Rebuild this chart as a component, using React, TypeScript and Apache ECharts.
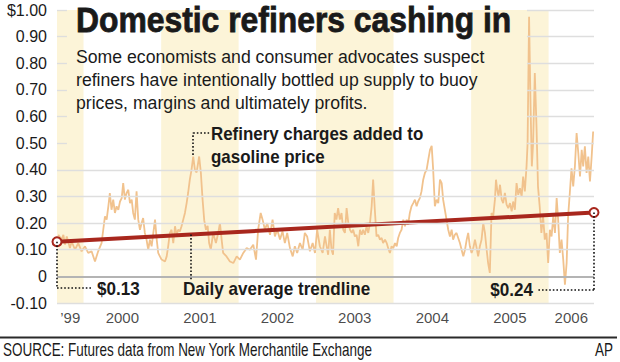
import React, { useEffect, useRef } from "react";
import * as echarts from "echarts";

// ---------- data ----------
const PRICE_DATES = [
  "1999-09-04","1999-09-20","1999-09-28","1999-10-06","1999-10-14","1999-10-29","1999-11-06","1999-11-22","1999-12-07","1999-12-23",
  "2000-01-08","2000-01-23","2000-02-08","2000-02-24","2000-03-10","2000-03-26","2000-04-03","2000-04-11","2000-04-19","2000-04-27",
  "2000-05-04","2000-05-12","2000-05-20","2000-05-28","2000-06-05","2000-06-13","2000-06-21","2000-06-29","2000-07-06","2000-07-14",
  "2000-07-22","2000-07-30","2000-08-07","2000-08-15","2000-08-22","2000-08-30","2000-09-07","2000-09-15","2000-09-23","2000-10-01",
  "2000-10-08","2000-10-16","2000-10-24","2000-11-01","2000-11-09","2000-11-17","2000-11-25","2000-12-03","2000-12-11","2000-12-18","2000-12-26",
  "2001-01-03","2001-01-19","2001-01-27","2001-02-03","2001-02-11","2001-02-19","2001-02-27","2001-03-07","2001-03-15","2001-03-22",
  "2001-03-30","2001-04-07","2001-04-15","2001-04-23","2001-05-01","2001-05-08","2001-05-16","2001-05-24","2001-06-01","2001-06-09",
  "2001-06-17","2001-06-29","2001-07-07","2001-07-15","2001-07-23","2001-07-31","2001-08-08","2001-08-15","2001-08-23","2001-09-03",
  "2001-09-16","2001-09-27","2001-10-05","2001-10-13","2001-10-20","2001-11-05","2001-11-21","2001-12-07","2001-12-23",
  "2002-01-07","2002-01-23","2002-02-08","2002-02-23","2002-03-11","2002-03-24","2002-04-03","2002-04-15","2002-04-24","2002-05-05",
  "2002-05-16","2002-05-29","2002-06-10","2002-06-21","2002-07-02","2002-07-15","2002-07-27","2002-08-07","2002-08-18","2002-08-31",
  "2002-09-13","2002-09-23","2002-10-04","2002-10-17","2002-10-30","2002-11-09","2002-11-20","2002-12-03","2002-12-16","2002-12-27",
  "2003-01-06","2003-01-19","2003-02-01","2003-02-12","2003-02-27","2003-03-07","2003-03-15","2003-03-22","2003-03-30","2003-04-07",
  "2003-04-15","2003-04-23","2003-05-01","2003-05-09","2003-05-17","2003-05-25","2003-06-02","2003-06-10","2003-06-18","2003-06-25",
  "2003-07-03","2003-07-11","2003-07-19","2003-07-27","2003-08-04","2003-08-11","2003-08-19","2003-08-27","2003-09-04","2003-09-12",
  "2003-09-20","2003-09-27","2003-10-05","2003-10-13","2003-10-21","2003-10-29","2003-11-06","2003-11-13","2003-11-22","2003-11-30",
  "2003-12-07","2003-12-15","2003-12-23","2003-12-31",
  "2004-01-08","2004-01-16","2004-01-23","2004-01-31","2004-02-08","2004-02-16","2004-02-24","2004-03-03","2004-03-10","2004-03-18",
  "2004-03-26","2004-04-03","2004-04-11","2004-04-19","2004-04-26","2004-05-04","2004-05-12","2004-05-20","2004-05-28","2004-06-05",
  "2004-06-13","2004-06-21","2004-06-29","2004-07-06","2004-07-14","2004-07-22","2004-07-30","2004-08-07","2004-08-15","2004-08-22",
  "2004-08-30","2004-09-07","2004-09-15","2004-09-23","2004-10-01","2004-10-08","2004-10-16","2004-10-24","2004-11-01","2004-11-09",
  "2004-11-17","2004-11-25","2004-12-03","2004-12-11","2004-12-18","2004-12-26",
  "2005-01-03","2005-01-11","2005-01-19","2005-01-27","2005-02-03","2005-02-11","2005-02-19","2005-02-27","2005-03-07","2005-03-15",
  "2005-03-22","2005-03-30","2005-04-07","2005-04-15","2005-04-23","2005-04-28","2005-05-04","2005-05-10","2005-05-17","2005-05-25",
  "2005-06-01","2005-06-09","2005-06-17","2005-06-25","2005-07-03","2005-07-11","2005-07-18","2005-07-26","2005-08-03","2005-08-11",
  "2005-08-19","2005-08-27","2005-09-03","2005-09-11","2005-09-19","2005-09-24","2005-10-01","2005-10-08","2005-10-14","2005-10-20",
  "2005-10-28","2005-11-05","2005-11-12","2005-11-20","2005-11-28","2005-12-06","2005-12-14","2005-12-22","2005-12-30",
  "2006-01-07","2006-01-15","2006-01-23","2006-01-31","2006-02-08","2006-02-15","2006-02-23","2006-03-03","2006-03-11","2006-03-19",
  "2006-03-27","2006-04-03","2006-04-11","2006-04-19","2006-04-27","2006-05-05","2006-05-13","2006-05-21","2006-05-29","2006-06-06",
  "2006-06-13","2006-06-21","2006-06-29","2006-07-07","2006-07-15","2006-07-23","2006-07-30",
];
const PRICE_VALUES = [
  0.156,0.138,0.156,0.119,0.15,0.106,0.131,0.10,0.125,0.094,
  0.113,0.088,0.094,0.056,0.094,0.125,0.175,0.225,0.213,0.263,
  0.313,0.25,0.288,0.238,0.263,0.25,0.281,0.294,0.35,0.288,
  0.313,0.325,0.275,0.288,0.238,0.213,0.319,0.213,0.175,0.20,
  0.219,0.163,0.138,0.10,0.138,0.113,0.163,0.213,0.138,0.088,0.075,
  0.063,0.056,0.075,0.113,0.163,0.175,0.125,0.188,0.156,0.175,
  0.169,0.188,0.213,0.238,0.275,0.313,0.363,0.40,0.45,0.40,
  0.39,0.45,0.39,0.29,0.21,0.175,0.19,0.125,0.10,0.163,
  0.125,0.163,0.20,0.138,0.088,0.075,0.056,0.05,0.075,
  0.063,0.088,0.106,0.10,0.119,0.063,0.175,0.238,0.213,0.175,
  0.20,0.156,0.213,0.15,0.175,0.138,0.169,0.125,0.163,0.106,
  0.075,0.113,0.088,0.125,0.10,0.163,0.15,0.094,0.125,0.088,
  0.175,0.113,0.088,0.15,0.081,0.175,0.10,0.081,0.238,0.213,
  0.256,0.213,0.238,0.175,0.163,0.256,0.20,0.175,0.163,0.175,
  0.15,0.156,0.113,0.175,0.156,0.175,0.156,0.188,0.163,0.20,
  0.263,0.363,0.25,0.15,0.156,0.138,0.144,0.125,0.138,0.125,
  0.106,0.088,0.113,0.106,
  0.125,0.113,0.144,0.163,0.175,0.213,0.188,0.213,0.194,0.238,
  0.263,0.275,0.288,0.263,0.281,0.294,0.319,0.363,0.388,0.40,
  0.438,0.475,0.49,0.40,0.263,0.288,0.275,0.363,0.35,0.288,
  0.25,0.213,0.175,0.15,0.175,0.138,0.156,0.163,0.144,0.125,
  0.10,0.075,0.10,0.138,0.163,0.113,
  0.088,0.106,0.138,0.106,0.075,0.113,0.138,0.20,0.163,0.10,
  0.05,0.013,0.238,0.225,0.288,0.363,0.325,0.30,0.344,0.288,
  0.275,0.313,0.269,0.256,0.275,0.244,0.281,0.25,0.35,0.306,
  0.331,0.30,0.375,0.319,0.413,0.50,0.975,0.638,0.413,0.50,
  0.763,0.563,0.338,0.263,0.163,0.225,0.138,0.163,0.05,
  0.175,0.15,0.225,0.163,0.294,0.213,0.088,0.138,0.063,-0.031,
  0.05,0.225,0.313,0.406,0.338,0.413,0.538,0.463,0.375,0.475,
  0.413,0.488,0.388,0.45,0.356,0.45,0.544,
];

const TREND_DATES = ["1999-08-29", "2006-08-03"];
const TREND_VALUES = [0.13, 0.24];
const TREND_LABELS = ["$0.13", "$0.24"];

const YEARS = [1999, 2000, 2001, 2002, 2003, 2004, 2005, 2006];
const YEAR_LABELS = ["\u201999", "2000", "2001", "2002", "2003", "2004", "2005", "2006"];
const SHADED_YEARS = [1999, 2001, 2003, 2005];
const Y_TICKS = [-0.1, 0, 0.1, 0.2, 0.3, 0.4, 0.5, 0.6, 0.7, 0.8, 0.9, 1.0];

const TITLE = "Domestic refiners cashing in";
const SUBTITLE = [
  "Some economists and consumer advocates suspect",
  "refiners have intentionally bottled up supply to buoy",
  "prices, margins and ultimately profits.",
];
const NOTE_PEAK = ["Refinery charges added to", "gasoline price"];
const NOTE_TREND = "Daily average trendline";
const SOURCE = "SOURCE: Futures data from New York Merchantile Exchange";
const CREDIT = "AP";

// annotation anchors (dates / values)
const PEAK_DATE = "2001-06-01";
const TREND_NOTE_DATE = "2001-05-21";
const KNOCK_FROM = "1999-10-15";
const KNOCK_TO = "2005-09-21";

// ---------- styling ----------
const SANS = '"Liberation Sans", Arial, Helvetica, sans-serif';
const INK = "#1a1a1a";
const RED = "#a8271d";
const ORANGE = "#f1c28d";
const BAND = "#fcf4d8";
const GRIDC = "#dedede";

function ts(s: string): number {
  const [y, m, d] = s.split("-").map(Number);
  return new Date(y, m - 1, d).getTime();
}

export default function App() {
  const ref = useRef<HTMLDivElement>(null);

  useEffect(() => {
    document.body.style.margin = "0";
    if (!ref.current) return;
    const chart = echarts.init(ref.current, undefined, { renderer: "svg" });

    const xMin = ts(TREND_DATES[0]);
    const xMax = ts(TREND_DATES[1]);
    const trendAt = (t: number) =>
      TREND_VALUES[0] + ((TREND_VALUES[1] - TREND_VALUES[0]) * (t - xMin)) / (xMax - xMin);

    const priceData = PRICE_DATES.map((d, i) => [ts(d), PRICE_VALUES[i]]);
    const trendData = TREND_DATES.map((d, i) => [ts(d), TREND_VALUES[i]]);

    const bands = SHADED_YEARS.map((y) => [
      { xAxis: Math.max(xMin, new Date(y, 0, 1).getTime()) },
      { xAxis: Math.min(xMax, new Date(y + 1, 0, 1).getTime()) },
    ]);

    const seg = (x1: number, y1: number, x2: number, y2: number, style: any) => [
      { coord: [x1, y1], lineStyle: style },
      { coord: [x2, y2], lineStyle: style },
    ];

    const gridLines: any[] = [];
    Y_TICKS.forEach((v) => {
      const style =
        Math.abs(v) < 1e-9
          ? { color: "#b4b4b4", width: 2, type: "solid" }
          : { color: GRIDC, width: 1.3, type: "solid" };
      if (v > 0.45) {
        gridLines.push(seg(xMin, v, ts(KNOCK_FROM), v, style));
        gridLines.push(seg(ts(KNOCK_TO), v, xMax, v, style));
      } else {
        gridLines.push(seg(xMin, v, xMax, v, style));
      }
    });

    const dot = { color: "#111", width: 1.6, type: [1.6, 2] };
    const leaderLowL = -0.042;
    const leaderLowR = -0.05;
    const leaders = [
      seg(xMin, TREND_VALUES[0], xMin, leaderLowL, dot),
      seg(xMin, leaderLowL, ts("2000-02-10"), leaderLowL, dot),
      seg(ts(TREND_NOTE_DATE), trendAt(ts(TREND_NOTE_DATE)), ts(TREND_NOTE_DATE), -0.012, dot),
      seg(ts(PEAK_DATE), 0.456, ts(PEAK_DATE), 0.539, dot),
      seg(ts(PEAK_DATE), 0.539, ts("2001-08-15"), 0.539, dot),
      seg(xMax, TREND_VALUES[1], xMax, leaderLowR, dot),
      seg(xMax, leaderLowR, ts("2005-11-06"), leaderLowR, dot),
    ];

    const yearPos = YEARS.map((y) => {
      const a = Math.max(xMin, new Date(y, 0, 1).getTime());
      const b = Math.min(xMax, new Date(y + 1, 0, 1).getTime());
      return [(a + b) / 2, -0.1];
    });

    const txt = (
      text: string,
      x: number,
      y: number,
      size: number,
      opts: { bold?: boolean; scaleX?: number; align?: string; stroke?: number; lh?: number } = {}
    ) => ({
      type: "text",
      x,
      y,
      scaleX: opts.scaleX ?? 1,
      z: 100,
      silent: true,
      style: {
        text,
        fontSize: size,
        fontWeight: opts.bold ? "bold" : "normal",
        fontFamily: SANS,
        lineHeight: opts.lh ?? size,
        fill: INK,
        stroke: opts.stroke ? INK : undefined,
        lineWidth: opts.stroke ?? 0,
        align: opts.align ?? "left",
        textAlign: opts.align ?? "left",
        verticalAlign: "middle",
        textVerticalAlign: "middle",
      },
    });

    const option: any = {
      animation: false,
      backgroundColor: "#ffffff",
      grid: { left: 57, right: 26, top: 10, bottom: 59, containLabel: false },
      xAxis: {
        type: "time",
        min: xMin,
        max: xMax,
        axisLine: { show: false },
        axisTick: { show: false },
        axisLabel: { show: false },
        splitLine: { show: false },
      },
      yAxis: {
        type: "value",
        min: -0.1,
        max: 1.0,
        interval: 0.1,
        axisLine: { show: false },
        axisTick: { show: false },
        splitLine: { show: false },
        axisLabel: {
          margin: 10,
          color: INK,
          fontSize: 16,
          fontFamily: SANS,
          formatter: (v: number) => {
            const r = Math.round(v * 100) / 100;
            if (r === 0) return "0";
            if (r === 1) return "$1.00";
            return r.toFixed(2);
          },
        },
      },
      series: [
        {
          name: "bands",
          type: "line",
          data: [],
          z: 0,
          silent: true,
          markArea: { silent: true, itemStyle: { color: BAND }, data: bands },
        },
        {
          name: "grid",
          type: "line",
          data: [],
          z: 1,
          silent: true,
          markLine: { silent: true, symbol: ["none", "none"], label: { show: false }, data: gridLines },
        },
        {
          name: "Refinery charges",
          type: "line",
          data: priceData,
          z: 3,
          showSymbol: false,
          symbol: "none",
          lineStyle: { color: ORANGE, width: 1.8 },
          itemStyle: { color: ORANGE },
        },
        {
          name: "Trendline",
          type: "line",
          data: trendData,
          z: 4,
          symbol: "circle",
          symbolSize: 9,
          showSymbol: true,
          clip: false,
          lineStyle: { color: RED, width: 4 },
          itemStyle: { color: "#ffffff", borderColor: RED, borderWidth: 2 },
        },
        {
          name: "leaders",
          type: "line",
          data: [],
          z: 5,
          silent: true,
          markLine: { silent: true, symbol: ["none", "none"], label: { show: false }, data: leaders },
        },
        {
          name: "years",
          type: "scatter",
          data: yearPos,
          symbolSize: 1,
          clip: false,
          itemStyle: { color: "rgba(0,0,0,0)" },
          silent: true,
          label: {
            show: true,
            position: "bottom",
            distance: 6,
            color: INK,
            fontSize: 15,
            fontFamily: SANS,
            formatter: (p: any) => YEAR_LABELS[p.dataIndex],
          },
        },
      ],
      graphic: [
        txt(TITLE, 76, 19.5, 35, { bold: true, scaleX: 0.91, stroke: 0.8, lh: 30 }),
        ...SUBTITLE.map((s, i) => txt(s, 76, 56.7 + i * 23.3, 18.5, { scaleX: 0.955 })),
        ...NOTE_PEAK.map((s, i) => txt(s, 211, 133.8 + i * 22.7, 18, { bold: true, scaleX: 0.94 })),
        txt(NOTE_TREND, 183, 288.5, 18, { bold: true, scaleX: 0.95 }),
        txt(TREND_LABELS[0], 97, 289, 18, { bold: true, scaleX: 0.95 }),
        txt(TREND_LABELS[1], 533, 290, 18, { bold: true, scaleX: 0.95, align: "right" }),
        {
          type: "line",
          z: 100,
          silent: true,
          shape: { x1: 0, y1: 337.5, x2: 617, y2: 337.5 },
          style: { stroke: "#2a2a2a", lineWidth: 2 },
        },
        txt(SOURCE, 3, 350, 17.5, { scaleX: 0.77 }),
        txt(CREDIT, 613, 350, 17.5, { scaleX: 0.77, align: "right" }),
      ],
    };

    chart.setOption(option);
    return () => chart.dispose();
  }, []);

  return <div ref={ref} style={{ width: 620, height: 362 }} />;
}
